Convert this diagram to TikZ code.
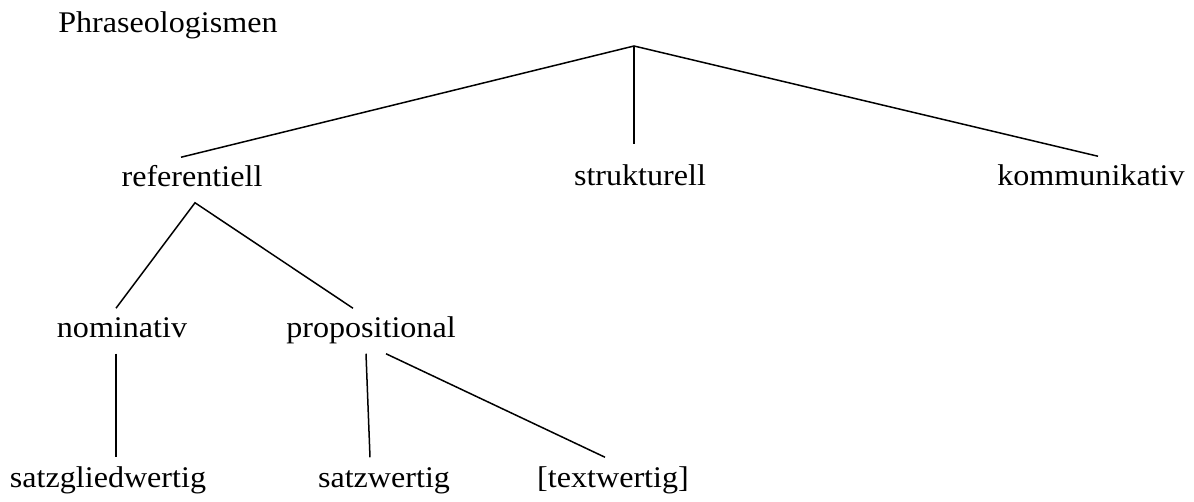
\documentclass[tikz,border=0pt]{standalone}
\usepackage{fontspec}
\usepackage{graphicx}
\setmainfont{Liberation Serif}
\usetikzlibrary{calc}
\newcommand{\widetxt}[1]{\scalebox{1.07}[1]{#1}}
\tikzset{lbl/.style={anchor=base,inner sep=8pt,text height=21pt,text depth=7pt,font=\fontsize{30}{36}\selectfont}}

\begin{document}
\begin{tikzpicture}[x=1pt,y=-1pt,line width=1.5pt]
\useasboundingbox (0,0) rectangle (1194,502);
\node[lbl] (phr) at (168,33) {\widetxt{Phraseologismen}};
\coordinate (root) at (634,46);
\node[lbl] (ref) at (192,187) {\widetxt{referentiell}};
\node[lbl] (struk) at (640,186) {\widetxt{strukturell}};
\node[lbl] (komm) at (1091,186) {\widetxt{kommunikativ}};
\node[lbl] (nom) at (122,338) {\widetxt{nominativ}};
\node[lbl] (prop) at (371,338) {\widetxt{propositional}};
\node[lbl] (sglied) at (108,487) {\widetxt{satzgliedwertig}};
\node[lbl] (swert) at (384,487) {\widetxt{satzwertig}};
\node[lbl] (twert) at (613,487) {\widetxt{[textwertig]}};
\coordinate (nomfoot) at ($(nom.south)+(-6,0)$);
\draw ($(ref.north)+(-11,0)$) -- (root) -- ($(komm.north)+(7,0)$);
\draw[shorten >=12pt] (root) -- (root |- struk.north);
\draw ($(nom.north)+(-6,0)$) -- ($(ref.south)+(3,0)$) -- ($(prop.north)+(-18,0)$);
\draw (nomfoot) -- (nomfoot |- sglied.north);
\draw ($(prop.south)+(-5,0)$) -- ($(swert.north)+(-14,0)$);
\draw ($(prop.south)+(15,0)$) -- ($(twert.north)+(-8,0)$);
\end{tikzpicture}
\end{document}
